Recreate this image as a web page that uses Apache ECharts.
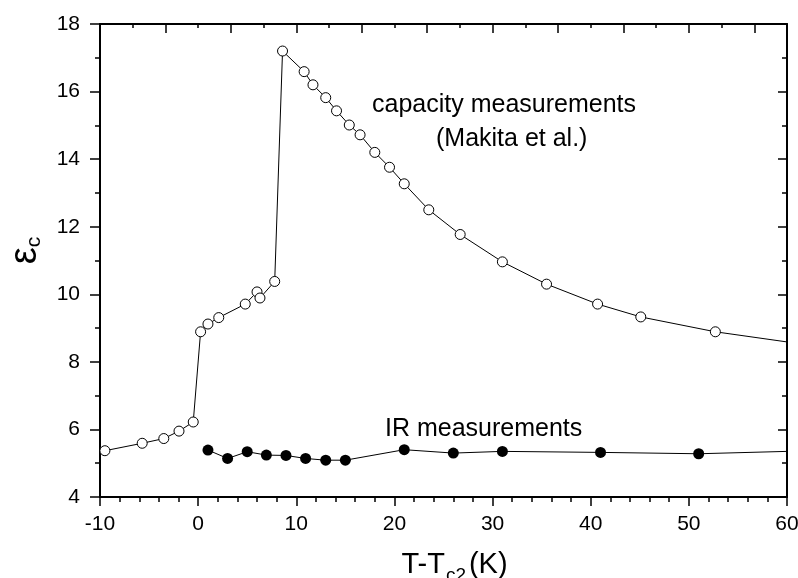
<!DOCTYPE html>
<html>
<head>
<meta charset="utf-8">
<script src="https://cdn.jsdelivr.net/npm/echarts@6/dist/echarts.min.js"></script>
<style>
html,body{margin:0;padding:0;background:#fff;}
#chart{width:798px;height:578px;}
</style>
</head>
<body>
<div id="chart"></div>
<script>
// Capacity measurements (Makita et al.) - open circles
var capX = [-9.5, -5.7, -3.5, -1.95, -0.5, 0.25, 1.0, 2.1, 4.8, 6.0, 6.3, 7.8, 8.6, 10.8, 11.7, 13.0, 14.1, 15.4, 16.5, 18.0, 19.5, 21.0, 23.5, 26.7, 31.0, 35.5, 40.7, 45.1, 52.7, 60];
var capY = [5.37, 5.59, 5.73, 5.95, 6.22, 8.89, 9.12, 9.31, 9.71, 10.07, 9.89, 10.38, 17.2, 16.59, 16.2, 15.82, 15.43, 15.01, 14.72, 14.2, 13.76, 13.27, 12.5, 11.77, 10.96, 10.3, 9.71, 9.33, 8.89, 8.59];
// IR measurements - filled circles
var irX = [1.0, 3.0, 5.0, 6.95, 8.95, 10.95, 13.0, 15.0, 21.0, 26.0, 31.0, 41.0, 51.0, 60];
var irY = [5.39, 5.14, 5.34, 5.24, 5.23, 5.14, 5.09, 5.09, 5.40, 5.30, 5.35, 5.32, 5.28, 5.35];
// axes
var xMin = -10, xMax = 60, xStep = 10;
var yMin = 4, yMax = 18, yStep = 2;
var annCapacity1 = 'capacity measurements';
var annCapacity2 = '(Makita et al.)';
var annIR = 'IR measurements';

var FONT = '"Liberation Sans", Arial, Helvetica, sans-serif';

function build(xs, ys) {
  return xs.map(function (x, i) {
    var item = { value: [x, ys[i]] };
    if (x >= xMax) item.symbol = 'none';
    return item;
  });
}

var chart = echarts.init(document.getElementById('chart'), null, { renderer: 'canvas' });

var axisLineStyle = { color: '#000', width: 2 };
var tickLineStyle = { color: '#000', width: 1.5 };

chart.setOption({
  animation: false,
  backgroundColor: '#fff',
  grid: { left: 100, right: 11, top: 24, bottom: 81, containLabel: false, outerBoundsMode: 'none' },
  xAxis: [
    {
      type: 'value', position: 'bottom', min: xMin, max: xMax, interval: xStep,
      axisLine: { show: true, onZero: false, lineStyle: axisLineStyle },
      axisTick: { show: true, inside: false, length: 9, lineStyle: tickLineStyle },
      minorTick: { show: true, splitNumber: 5, length: 5, lineStyle: tickLineStyle },
      splitLine: { show: false },
      axisLabel: { show: true, margin: 17, color: '#000', fontSize: 21, fontFamily: FONT },
      name: 'T-T{sub|c2}(K)',
      nameLocation: 'middle',
      nameGap: 47,
      nameTextStyle: {
        color: '#000', fontSize: 29, fontFamily: FONT, padding: [0, 0, 0, 22],
        rich: { sub: { fontSize: 19, fontFamily: FONT, color: '#000', verticalAlign: 'bottom', padding: [22, 3, 0, 1] } }
      }
    },
    {
      type: 'value', position: 'top', min: 0, max: 21, interval: 1,
      axisLine: { show: true, onZero: false, lineStyle: axisLineStyle },
      axisTick: { show: true, inside: true, length: 4, lineStyle: tickLineStyle },
      axisLabel: { show: false }, splitLine: { show: false }
    },
    {
      type: 'value', position: 'top', min: 0, max: 21, interval: 2,
      axisLine: { show: false, onZero: false },
      axisTick: { show: true, inside: true, length: 9, lineStyle: tickLineStyle },
      axisLabel: { show: false }, splitLine: { show: false }
    }
  ],
  yAxis: [
    {
      type: 'value', position: 'left', min: yMin, max: yMax, interval: yStep,
      axisLine: { show: true, onZero: false, lineStyle: axisLineStyle },
      axisTick: { show: true, inside: false, length: 10, lineStyle: tickLineStyle },
      minorTick: { show: true, splitNumber: 2, length: 5, lineStyle: tickLineStyle },
      splitLine: { show: false },
      axisLabel: { show: true, margin: 20, color: '#000', fontSize: 21, fontFamily: FONT },
      name: 'ε{sub|c}',
      nameLocation: 'middle',
      nameGap: 55,
      nameTextStyle: {
        color: '#000', fontSize: 38, fontFamily: FONT, padding: [0, 0, 0, 20],
        rich: { sub: { fontSize: 21, fontFamily: FONT, color: '#000', verticalAlign: 'bottom', padding: [14, 0, 0, 0] } }
      }
    },
    {
      type: 'value', position: 'right', min: yMin, max: yMax, interval: yStep,
      axisLine: { show: true, onZero: false, lineStyle: axisLineStyle },
      axisTick: { show: true, inside: true, length: 9, lineStyle: tickLineStyle },
      minorTick: { show: true, splitNumber: 2, length: 5, lineStyle: tickLineStyle },
      axisLabel: { show: false }, splitLine: { show: false }
    }
  ],
  series: [
    {
      name: 'capacity', type: 'line', xAxisIndex: 0, yAxisIndex: 0,
      data: build(capX, capY),
      symbol: 'circle', symbolSize: 10,
      lineStyle: { color: '#000', width: 1 },
      itemStyle: { color: '#fff', borderColor: '#000', borderWidth: 1 },
      z: 3
    },
    {
      name: 'IR', type: 'line', xAxisIndex: 0, yAxisIndex: 0,
      data: build(irX, irY),
      symbol: 'circle', symbolSize: 11,
      lineStyle: { color: '#000', width: 1 },
      itemStyle: { color: '#000', borderColor: '#000', borderWidth: 0 },
      z: 3
    }
  ],
  graphic: [
    { type: 'text', x: 372, y: 105.5, style: { text: annCapacity1, fill: '#000', fontSize: 25, fontFamily: FONT, align: 'left', verticalAlign: 'middle' } },
    { type: 'text', x: 436, y: 139.5, style: { text: annCapacity2, fill: '#000', fontSize: 25, fontFamily: FONT, align: 'left', verticalAlign: 'middle' } },
    { type: 'text', x: 385, y: 428.7, style: { text: annIR, fill: '#000', fontSize: 25, fontFamily: FONT, align: 'left', verticalAlign: 'middle' } }
  ]
});
</script>
</body>
</html>
